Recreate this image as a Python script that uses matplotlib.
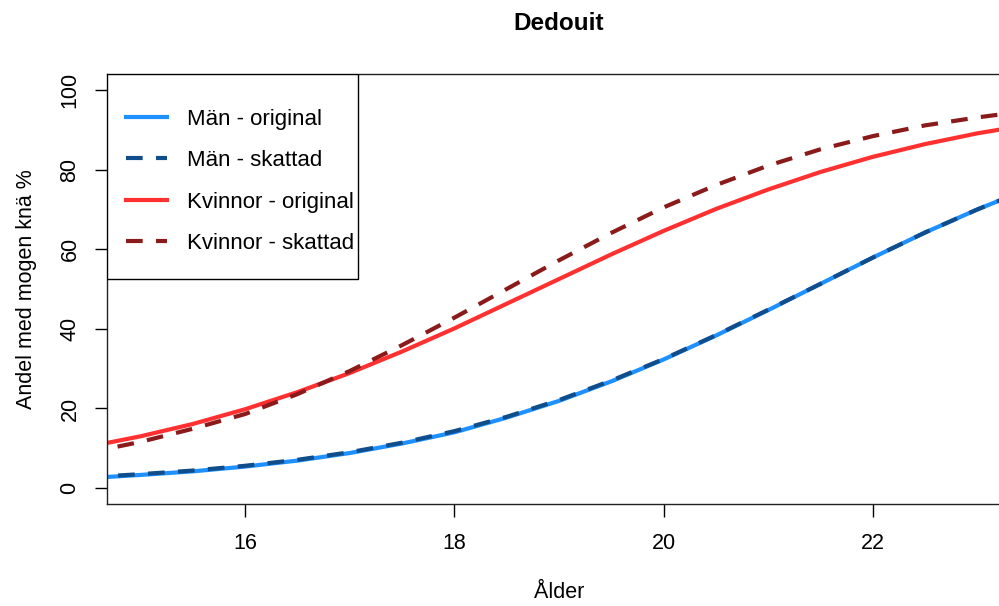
import matplotlib
matplotlib.use('Agg')
import matplotlib.pyplot as plt
from matplotlib.patches import Rectangle

plt.rcParams['font.family'] = ['Liberation Sans', 'DejaVu Sans']

# ages (x) and share with mature knee (%)
alder = [14.5, 15.0, 15.5, 16.0, 16.5, 17.0, 17.5, 18.0, 18.5, 19.0,
         19.5, 20.0, 20.5, 21.0, 21.5, 22.0, 22.5, 23.0, 23.5]
man_original = [2.5, 3.3, 4.2, 5.4, 6.9, 8.8, 11.2, 14.0, 17.7, 21.9,
                26.8, 32.3, 38.3, 44.7, 51.3, 57.9, 64.2, 70.0, 75.3]
man_skattad = [2.7, 3.5, 4.4, 5.6, 7.1, 9.0, 11.4, 14.3, 17.9, 22.1,
               27.0, 32.4, 38.4, 44.8, 51.3, 57.9, 64.2, 70.0, 75.3]
kvinnor_original = [10.4, 13.0, 16.1, 19.8, 24.1, 28.9, 34.3, 40.1, 46.3, 52.5,
                    58.7, 64.6, 70.1, 75.0, 79.4, 83.2, 86.4, 89.1, 91.3]
kvinnor_skattad = [8.9, 11.6, 14.9, 18.6, 23.6, 29.4, 35.9, 42.8, 50.0, 57.2,
                   64.1, 70.5, 76.1, 81.0, 85.1, 88.4, 91.1, 93.1, 94.8]

W, H = 999, 606
fig = plt.figure(figsize=(W / 100, H / 100), dpi=100)
# plot region runs a little past the right edge of the image, as in the reference
AX_L, AX_R, AX_T, AX_B = 107, 1011, 74, 504
ax = fig.add_axes([AX_L / W, 1 - AX_B / H, (AX_R - AX_L) / W, (AX_B - AX_T) / H])

def axfrac(px, py):
    return (px - AX_L) / (AX_R - AX_L), (AX_B - py) / (AX_B - AX_T)

lw = 3
dash = (4.0, 3.2)
ax.plot(alder, man_original, color='#1E90FF', lw=lw, label='Män - original')
ax.plot(alder, man_skattad, color='#104E8B', lw=lw, dashes=dash, label='Män - skattad')
ax.plot(alder, kvinnor_original, color='#FF3030', lw=lw, label='Kvinnor - original')
ax.plot(alder, kvinnor_skattad, color='#8B1A1A', lw=lw, dashes=dash, label='Kvinnor - skattad')

ax.set_xlim(14.68, 23.32)
ax.set_ylim(-4, 104)
ax.set_xticks([16, 18, 20, 22])
ax.set_yticks([0, 20, 40, 60, 80, 100])
ax.set_yticklabels(['0', '20', '40', '60', '80', '100'], rotation=90, va='center')
ax.tick_params(direction='out', length=9, width=1, labelsize=15.5)
ax.tick_params(axis='x', pad=12)
ax.tick_params(axis='y', pad=10)
for s in ax.spines.values():
    s.set_linewidth(1)
    s.set_color('#222222')

ax.set_xlabel('Ålder', fontsize=15.5, labelpad=20)
ax.set_ylabel('Andel med mogen knä %', fontsize=15.5, labelpad=16)
fig.text(559 / W, 1 - 23 / H, 'Dedouit', fontsize=17.5, fontweight='bold',
         ha='center', va='center')

# legend box drawn separately, R style: tight on the right
x0, y0 = axfrac(107, 279)
x1, y1 = axfrac(358, 74)
ax.add_patch(Rectangle((x0, y0), x1 - x0, y1 - y0, transform=ax.transAxes,
                       facecolor='white', edgecolor='black', lw=1, zorder=4))
lx, ly = axfrac(119, 102)
leg = ax.legend(loc='upper left', bbox_to_anchor=(lx, ly), borderaxespad=0,
                frameon=False, fontsize=16, borderpad=0.3,
                handlelength=1.85, handletextpad=0.9, labelspacing=0.92)
leg.set_zorder(5)

fig.savefig('out.png', dpi=100)
